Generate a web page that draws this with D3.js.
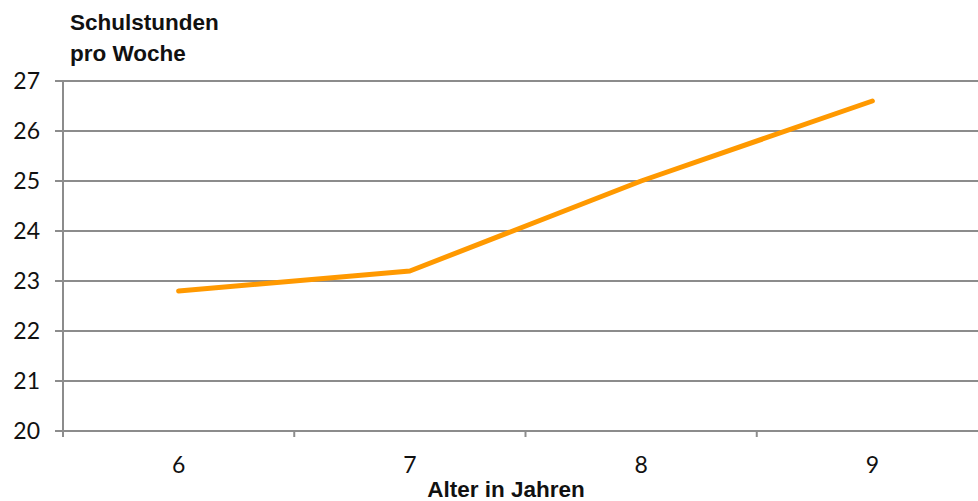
<!DOCTYPE html>
<html><head><meta charset="utf-8">
<script src="https://cdn.jsdelivr.net/npm/d3@7"></script>
<style>body{margin:0;background:#fff}svg{display:block}</style>
</head><body>
<svg id="c" width="978" height="501"></svg>
<script>
const categories = ["6", "7", "8", "9"];
const values = [22.8, 23.2, 25.0, 26.6];
const yTicks = [20, 21, 22, 23, 24, 25, 26, 27];
const yTitle = ["Schulstunden", "pro Woche"];
const xTitle = "Alter in Jahren";

(function () {
const svg = d3.select("#c");
const mLeft = 63, mRight = 988, mTop = 81, mBottom = 431;
const x = d3.scaleBand().domain(categories).range([mLeft, mRight]);
const y = d3.scaleLinear().domain([20, 27]).range([mBottom, mTop]);
const grey = "#8c8c8c";
const font = "'Liberation Sans', Arial, sans-serif";

svg.append("g").selectAll("line").data(yTicks).join("line")
  .attr("x1", mLeft - 8).attr("x2", 978)
  .attr("y1", d => y(d)).attr("y2", d => y(d))
  .attr("stroke", grey).attr("stroke-width", 2);

svg.append("line").attr("x1", mLeft).attr("x2", mLeft).attr("y1", mTop).attr("y2", mBottom + 6)
  .attr("stroke", grey).attr("stroke-width", 2);

const bounds = categories.map(c => x(c)).concat([x(categories[categories.length-1]) + x.bandwidth()]);
svg.append("g").selectAll("line").data(bounds).join("line")
  .attr("x1", d => d).attr("x2", d => d).attr("y1", mBottom).attr("y2", mBottom + 6)
  .attr("stroke", grey).attr("stroke-width", 2);

svg.append("g").selectAll("text").data(yTicks).join("text")
  .attr("x", 40).attr("y", d => y(d)).attr("dy", "0.36em")
  .attr("text-anchor", "end").attr("font-family", "Lato, sans-serif").attr("font-size", 23)
  .attr("fill", "#111").text(d => d);

svg.append("g").selectAll("text").data(categories).join("text")
  .attr("x", d => x(d) + x.bandwidth() / 2).attr("y", 473)
  .attr("text-anchor", "middle").attr("font-family", "Lato, sans-serif").attr("font-size", 23)
  .attr("fill", "#111").text(d => d);

const line = d3.line().x((d, i) => x(categories[i]) + x.bandwidth() / 2).y(d => y(d));
svg.append("path").datum(values).attr("d", line)
  .attr("fill", "none").attr("stroke", "#FF9900").attr("stroke-width", 5)
  .attr("stroke-linecap", "round").attr("stroke-linejoin", "round");

svg.append("g").selectAll("text").data(yTitle).join("text")
  .attr("x", 70).attr("y", (d, i) => 30 + i * 31)
  .attr("font-family", font).attr("font-size", 22.5).attr("font-weight", 600)
  .attr("fill", "#111").text(d => d);

svg.append("text").attr("x", 506).attr("y", 497).attr("text-anchor", "middle")
  .attr("font-family", font).attr("font-size", 22.5).attr("font-weight", 600)
  .attr("fill", "#111").text(xTitle);
})();
</script>
</body></html>
